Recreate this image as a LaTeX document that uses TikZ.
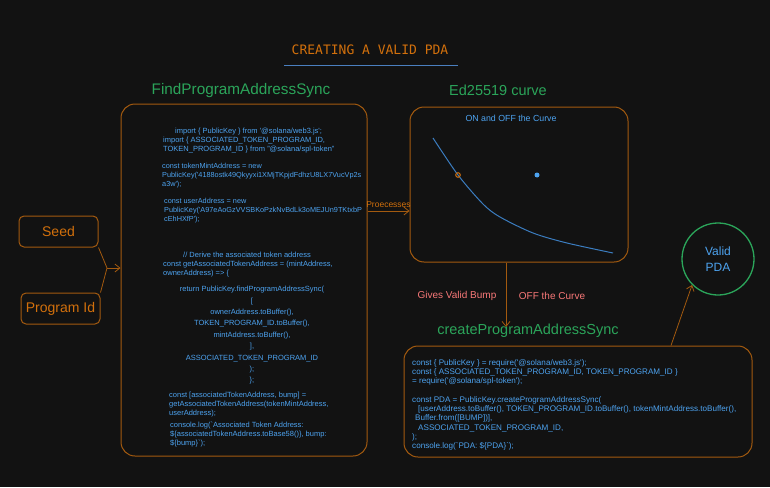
\documentclass[tikz,border=0pt]{standalone}
\usepackage{fontspec}
\setmainfont{Liberation Sans}
\newfontfamily\titlefont{DejaVu Sans Mono}
\usetikzlibrary{arrows.meta, positioning}
\definecolor{pdabg}{HTML}{121212}
\definecolor{pdaborder}{HTML}{A35A0F}
\definecolor{pdaorange}{HTML}{D2700C}
\definecolor{pdagreen}{HTML}{2BA55A}
\definecolor{pdablue}{HTML}{4DA3F0}
\definecolor{pdared}{HTML}{F87878}
\definecolor{pdacurve}{HTML}{3B7DC0}
\definecolor{pdaline}{HTML}{4A7FBF}
\newcommand{\sq}{\textquotesingle}
\newcommand{\bq}{\textasciigrave}
\tikzset{
	codebox/.style={draw=pdaborder, line width=1pt, rounded corners=14pt},
	inbox/.style={draw=pdaborder, line width=1pt, rounded corners=5pt,
		minimum width=79pt, minimum height=31pt, text=pdaorange,
		font=\fontsize{14}{16}\selectfont},
	codetxt/.style={text=pdablue, font=\fontsize{7.5}{8.8}\selectfont,
		align=left, anchor=north west, inner sep=0pt},
	head/.style={text=pdagreen, font=\fontsize{14.5}{16}\selectfont},
	note/.style={text=pdared, font=\fontsize{10}{12}\selectfont},
	marr/.style={-{Straight Barb[length=5pt,width=8pt]}, line width=0.8pt, draw=pdaborder}
}

\begin{document}
\begin{tikzpicture}[x=1pt, y=-1pt]
	\fill[pdabg] (0,0) rectangle (770,487);
	% title
	\node[text=pdaorange, font=\titlefont\fontsize{13}{15}\selectfont] (title) at (370,50) {CREATING A VALID PDA};
	\draw[pdaline, line width=1pt] ([xshift=-4pt,yshift=-7pt]title.south west) -- ([xshift=6pt,yshift=-7pt]title.south east);

	% inputs
	\node[inbox] (seed) at (58.5,231.5) {Seed};
	\node[inbox] (prog) at (60.5,308.5) {Program Id};

	% findProgramAddressSync
	\node[head, font=\fontsize{15.3}{17}\selectfont] (findt) at (241,91) {FindProgramAddressSync};
	\node[codebox, minimum width=246pt, minimum height=352pt] (lbox) at (244,280) {};
	\node[codetxt] (imp) at (163,128) {\hspace{12pt}import \{ PublicKey \} from \sq @solana/web3.js\sq;\\
		import \{ ASSOCIATED\_TOKEN\_PROGRAM\_ID,\\
		TOKEN\_PROGRAM\_ID \} from "@solana/spl-token"};
	\node[codetxt, font=\fontsize{7.3}{9}\selectfont] (mint) at (162,163) {const tokenMintAddress = new\\
		PublicKey(\sq 4188ostk49Qkyyxi1XMjTKpjdFdhzU8LX7VucVp2s\\
		a3w\sq);};
	\node[codetxt, font=\fontsize{7.3}{9}\selectfont] (user) at (164,198) {const userAddress = new\\
		PublicKey(\sq A97eAoGzVVSBKoPzkNvBdLk3oMEJUn9TKtxbP\\
		cEhHXfP\sq);};
	\node[codetxt] (derive) at (163,252) {\hspace{20pt}// Derive the associated token address\\
		const getAssociatedTokenAddress = (mintAddress,\\
		ownerAddress) => \{};
	\node[codetxt, align=center, anchor=north, font=\fontsize{7.5}{11.4}\selectfont] (ret) at (252,286) {return PublicKey.findProgramAddressSync(\\
		{[}\\
		ownerAddress.toBuffer(),\\
		TOKEN\_PROGRAM\_ID.toBuffer(),\\
		mintAddress.toBuffer(),\\
		{]},\\
		ASSOCIATED\_TOKEN\_PROGRAM\_ID\\
		);\\
		\};};
	\node[codetxt] (bump) at (169,392) {const [associatedTokenAddress, bump] =\\
		getAssociatedTokenAddress(tokenMintAddress,\\
		userAddress);};
	\node[codetxt] (log) at (170,422) {console.log(\bq Associated Token Address:\\
		\$\{associatedTokenAddress.toBase58()\}, bump:\\
		\$\{bump\}\bq);};

	% curve
	\node[head] (edt) at (498,90) {Ed25519 curve};
	\node[codebox, minimum width=218pt, minimum height=155pt] (cbox) at (519,184.5) {};
	\node[text=pdablue, font=\fontsize{8.8}{10}\selectfont] (ont) at (511,118) {ON and OFF the Curve};
	\draw[pdacurve, line width=1pt] plot[smooth] coordinates {(433,138) (458,175) (483,204) (500,217) (533,233) (567,243) (613,253)};
	\draw[pdaorange, line width=1pt] (458,175) circle (2.3);
	\fill[pdablue] (537,175) circle (2.5);

	% createProgramAddressSync
	\node[head] (cret) at (528,331) {createProgramAddressSync};
	\node[codebox, minimum width=348pt, minimum height=111pt] (bbox) at (578,401.5) {};
	\node[codetxt, font=\fontsize{8.1}{9}\selectfont] (req) at (412,359.5) {const \{ PublicKey \} = require(\sq @solana/web3.js\sq);\\
		const \{ ASSOCIATED\_TOKEN\_PROGRAM\_ID, TOKEN\_PROGRAM\_ID \}\\
		= require(\sq @solana/spl-token\sq);};
	\node[codetxt, font=\fontsize{8.1}{9.2}\selectfont] (pda) at (412,396.5) {const PDA = PublicKey.createProgramAddressSync(\\
		\hspace{6pt}{[}userAddress.toBuffer(), TOKEN\_PROGRAM\_ID.toBuffer(), tokenMintAddress.toBuffer(),\\
		\hspace{3pt}Buffer.from([BUMP])],\\
		\hspace{6pt}ASSOCIATED\_TOKEN\_PROGRAM\_ID,\\
		);\\
		console.log(\bq PDA: \$\{PDA\}\bq);};

	% result
	\node[circle, draw=pdagreen, line width=1.3pt, minimum size=72pt, align=center,
		text=pdablue, font=\fontsize{12}{16}\selectfont] (valid) at (718,259) {Valid\\PDA};

	% connectors
	\coordinate (join) at (107,268);
	\draw[pdaborder, line width=0.8pt] (seed.south east) -- (join) -- (prog.north east);
	\draw[marr] (join) -- (join -| lbox.west);
	\coordinate (procy) at (0,211);
	\draw[marr] (lbox.east |- procy) -- node[above, text=pdaorange, font=\fontsize{8.5}{10}\selectfont] {Proecesses} (cbox.west |- procy);
	\coordinate (bumpx) at (506,327);
	\draw[marr] (cbox.south -| bumpx) -- (bumpx);
	\node[note] (gives) at (457,296) {Gives Valid Bump};
	\node[note] (offc) at (552,296) {OFF the Curve};
	\coordinate (outx) at (671,0);
	\draw[marr] (bbox.north -| outx) -- (valid.south west);
\end{tikzpicture}
\end{document}
